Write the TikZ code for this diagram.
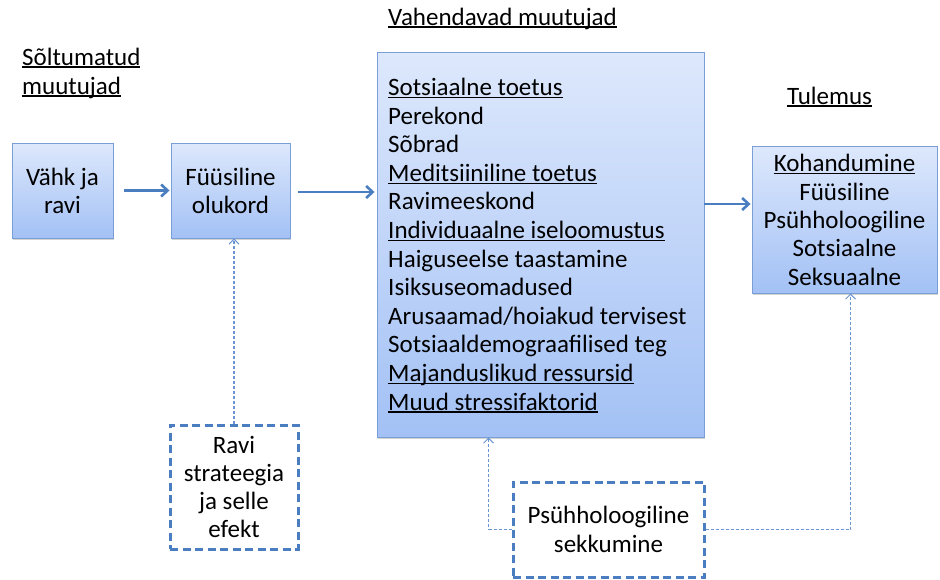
\documentclass[tikz,border=0pt]{standalone}
\usepackage{fontspec}
\setmainfont{Carlito}
\usetikzlibrary{arrows.meta,shadows,calc}

\definecolor{boxtop}{HTML}{DDE8FC}
\definecolor{boxbot}{HTML}{A3C1F5}
\definecolor{boxline}{HTML}{7A9ED6}
\definecolor{linkblue}{HTML}{4A7EC0}
\definecolor{thinblue}{HTML}{6A95D2}

% underline sitting just below the baseline
\newsavebox\ulinebox
\newcommand\ulin[1]{\sbox\ulinebox{#1}\rlap{\rule[-2.6pt]{\wd\ulinebox}{1.2pt}}\usebox\ulinebox}

\tikzset{
  txt/.style={font=\fontsize{25}{28.6}\selectfont},
  gradbox/.style={txt, draw=boxline, line width=0.9pt, top color=boxtop, bottom color=boxbot,
    inner sep=0pt, align=center,
    drop shadow={shadow xshift=1.2pt, shadow yshift=-1.6pt, opacity=0.35}},
  dashbox/.style={draw=linkblue, line width=3pt, dash pattern=on 8pt off 4.5pt,
    fill=white, inner sep=0pt},
  mainarrow/.style={draw=linkblue, line width=2.8pt, -{Straight Barb[length=6.5pt,width=12pt,line width=2.6pt]}},
  thinlink/.style={draw=thinblue, line width=1.1pt, dash pattern=on 3pt off 2pt,
    -{Straight Barb[length=5pt,width=10pt,line width=1pt]}},
  heading/.style={txt, anchor=base west, inner sep=0pt},
  % multi-line text blocks, placed by the baseline of their last line
  block/.style={txt, inner sep=0pt}
}

\begin{document}
\begin{tikzpicture}[x=1pt,y=-1pt]
\useasboundingbox (0,0) rectangle (940,579);

% column headings
\node[heading] (h1a) at (22,65) {\ulin{Sõltumatud}};
\node[heading] (h1b) at (22,94) {\ulin{muutujad}};
\node[heading] (h2) at (388,25) {\ulin{Vahendavad muutujad}};
\node[heading] (h3) at (787,104) {\ulin{Tulemus}};

% solid boxes
\node[gradbox, minimum width=101pt, minimum height=95pt] (vahk) at (62.5,190.5) {};
\node[block, anchor=base, align=center, font=\fontsize{25}{28}\selectfont] (vahktext) at (62.5,213) {Vähk ja\\ravi};
\node[gradbox, minimum width=119pt, minimum height=95pt] (fyys) at (230.5,190.5) {};
\node[block, anchor=base, align=center, font=\fontsize{25}{28}\selectfont] (fyystext) at (230.5,213) {Füüsiline\\olukord};
\node[gradbox, minimum width=327pt, minimum height=385pt] (mid) at (540.5,244.5) {};
\node[block, anchor=base west, align=left] (midtext) at (388,410) {%
\ulin{Sotsiaalne toetus}\\
Perekond\\
Sõbrad\\
\ulin{Meditsiiniline toetus}\\
Ravimeeskond\\
\ulin{Individuaalne iseloomustus}\\
Haiguseelse taastamine\\
Isiksuseomadused\\
Arusaamad/hoiakud tervisest\\
Sotsiaaldemograafilised teg\\
\ulin{Majanduslikud ressursid}\\
\ulin{Muud stressifaktorid}};
\node[gradbox, minimum width=185pt, minimum height=147pt] (tul) at (844.5,219.5) {};
\node[block, anchor=base, align=center, font=\fontsize{25}{28.3}\selectfont] (tultext) at (844.5,285) {%
\ulin{Kohandumine}\\Füüsiline\\Psühholoogiline\\Sotsiaalne\\Seksuaalne};

% dashed boxes
\node[dashbox, minimum width=128pt, minimum height=124pt] (ravi) at (234,487) {};
\node[block, anchor=base, align=center, font=\fontsize{25}{28}\selectfont] (ravitext) at (234,537) {Ravi\\strateegia\\ja selle\\efekt};
\node[dashbox, minimum width=191pt, minimum height=95pt] (psy) at (608.5,529.5) {};
\node[block, anchor=base, align=center, font=\fontsize{25}{29}\selectfont] (psytext) at (608.5,552) {Psühholoogiline\\sekkumine};

% main flow
\draw[mainarrow, shorten <=11pt, shorten >=1pt] (vahk.east) -- (fyys.west);
\coordinate (a2) at ([yshift=-1.5pt]fyys.east);
\draw[mainarrow, shorten <=8pt, shorten >=2pt] (a2) -- (a2 -| mid.west);
\coordinate (a3) at ([yshift=15.5pt]tul.west);
\draw[mainarrow, shorten >=1pt] (a3 -| mid.east) -- (a3);

% intervention links
\draw[thinlink] (ravi.north) -- (ravi.north |- fyys.south);
\coordinate (p1) at ([xshift=112pt]mid.south west);
\draw[thinlink] (psy.west) -| (p1);
\coordinate (p2) at ([xshift=99pt]tul.south west);
\draw[thinlink] (psy.east) -| (p2);
\end{tikzpicture}
\end{document}
